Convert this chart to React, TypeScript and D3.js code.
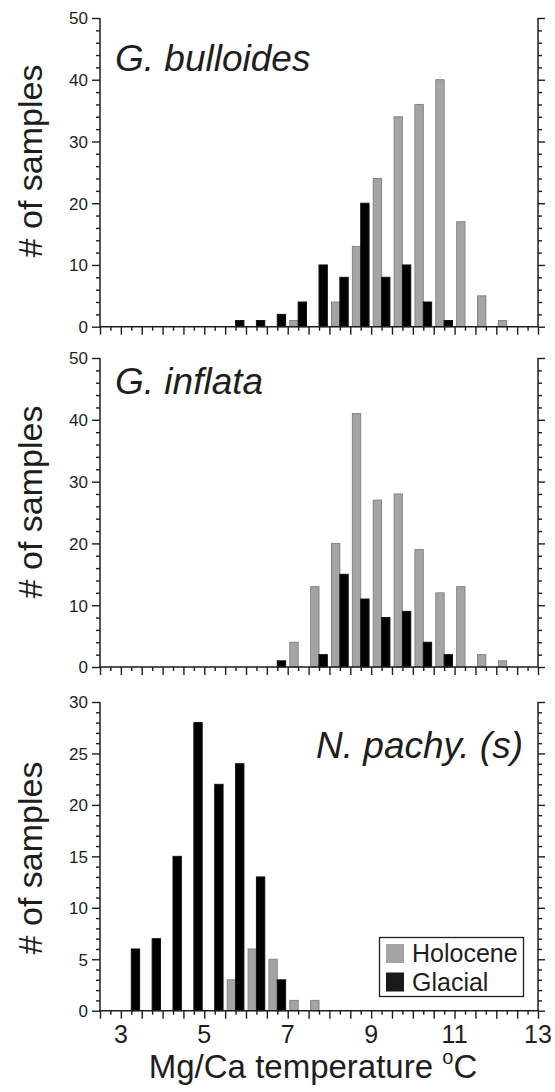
import React, { useEffect, useRef } from "react";
import * as d3 from "d3";

// bin centres (degC), each bin 0.5 wide; Holocene bar left of centre, Glacial right
const binCenters = [3.25, 3.75, 4.25, 4.75, 5.25, 5.75, 6.25, 6.75, 7.25, 7.75, 8.25, 8.75, 9.25, 9.75, 10.25, 10.75, 11.25, 11.75, 12.25];

const bulloidesHolocene = [0, 0, 0, 0, 0, 0, 0, 0, 1, 0, 4, 13, 24, 34, 36, 40, 17, 5, 1];
const bulloidesGlacial = [0, 0, 0, 0, 0, 1, 1, 2, 4, 10, 8, 20, 8, 10, 4, 1, 0, 0, 0];

const inflataHolocene = [0, 0, 0, 0, 0, 0, 0, 0, 4, 13, 20, 41, 27, 28, 19, 12, 13, 2, 1];
const inflataGlacial = [0, 0, 0, 0, 0, 0, 0, 1, 0, 2, 15, 11, 8, 9, 4, 2, 0, 0, 0];

const pachyHolocene = [0, 0, 0, 0, 0, 3, 6, 5, 1, 1, 0, 0, 0, 0, 0, 0, 0, 0, 0];
const pachyGlacial = [6, 7, 15, 28, 22, 24, 13, 3, 0, 0, 0, 0, 0, 0, 0, 0, 0, 0, 0];

const xTickLabels = [3, 5, 7, 9, 11, 13];
const yTicks50 = [0, 10, 20, 30, 40, 50];
const yTicks30 = [0, 5, 10, 15, 20, 25, 30];
const seriesNames = ["Holocene", "Glacial"];

const FONT = "'Liberation Sans', Arial, Helvetica, sans-serif";
const INK = "#1e1e1e";
const GREY = "#a4a4a4";
const GREY_EDGE = "#858585";

const panels = [
  { title: "G. bulloides", holo: bulloidesHolocene, glac: bulloidesGlacial, ymax: 50, yticks: yTicks50, minorStep: 2, top: 18, bottom: 326.7, titleX: 115, titleY: 71, anchor: "start", labelY: 161 },
  { title: "G. inflata", holo: inflataHolocene, glac: inflataGlacial, ymax: 50, yticks: yTicks50, minorStep: 2, top: 358, bottom: 667, titleX: 115, titleY: 394, anchor: "start", labelY: 502 },
  { title: "N. pachy. (s)", holo: pachyHolocene, glac: pachyGlacial, ymax: 30, yticks: yTicks30, minorStep: 1, top: 702, bottom: 1010.7, titleX: 523, titleY: 758, anchor: "end", labelY: 858 },
];

const App = () => {
  const svgRef = useRef<SVGSVGElement>(null);

  useEffect(() => {
    const svg = d3.select(svgRef.current);
    svg.selectAll("*").remove();

    const left = 100;
    const right = 538;
    const x = d3.scaleLinear().domain([2.5, 13]).range([left, right]);
    const barW = 0.2;

    panels.forEach((p, pi) => {
      const y = d3.scaleLinear().domain([0, p.ymax]).range([p.bottom, p.top]);
      const g = svg.append("g");

      // bars
      const rows = binCenters.map((c, i) => ({ c, holo: p.holo[i], glac: p.glac[i] }));
      g.selectAll("rect.holo")
        .data(rows.filter((d) => d.holo > 0))
        .enter()
        .append("rect")
        .attr("x", (d) => x(d.c - barW))
        .attr("y", (d) => y(d.holo))
        .attr("width", x(barW) - x(0))
        .attr("height", (d) => y(0) - y(d.holo))
        .attr("fill", GREY)
        .attr("stroke", GREY_EDGE)
        .attr("stroke-width", 1);
      g.selectAll("rect.glac")
        .data(rows.filter((d) => d.glac > 0))
        .enter()
        .append("rect")
        .attr("x", (d) => x(d.c))
        .attr("y", (d) => y(d.glac))
        .attr("width", x(barW) - x(0))
        .attr("height", (d) => y(0) - y(d.glac))
        .attr("fill", "#000")
        .attr("stroke", "#111")
        .attr("stroke-width", 1);

      const yMinor = d3.range(0, p.ymax + 0.001, p.minorStep).filter((v) => !p.yticks.includes(v));
      const xMajor = d3.range(2.5, 13.001, 0.5);
      const xMinor = d3.range(2.75, 13, 0.5);

      const styleAxis = (sel) => {
        sel.select(".domain").remove();
        sel.selectAll("line").attr("stroke", INK).attr("stroke-width", 1.4);
        sel.selectAll("text").attr("fill", INK).attr("font-family", FONT);
      };

      // left axis
      g.append("g")
        .attr("transform", `translate(${left},0)`)
        .call(d3.axisLeft(y).tickValues(p.yticks).tickSize(8).tickPadding(4).tickFormat(d3.format("d")))
        .call(styleAxis)
        .selectAll("text")
        .attr("font-size", 17)
        .attr("dy", "0.35em");
      g.append("g")
        .attr("transform", `translate(${left},0)`)
        .call(d3.axisLeft(y).tickValues(yMinor).tickSize(4).tickFormat(() => ""))
        .call(styleAxis);

      // right axis
      g.append("g")
        .attr("transform", `translate(${right},0)`)
        .call(d3.axisRight(y).tickValues(p.yticks).tickSize(7).tickFormat(() => ""))
        .call(styleAxis);
      g.append("g")
        .attr("transform", `translate(${right},0)`)
        .call(d3.axisRight(y).tickValues(yMinor).tickSize(4).tickFormat(() => ""))
        .call(styleAxis);

      // bottom axis
      g.append("g")
        .attr("transform", `translate(0,${p.bottom})`)
        .call(d3.axisBottom(x).tickValues(xMajor).tickSize(8).tickFormat(() => ""))
        .call(styleAxis);
      g.append("g")
        .attr("transform", `translate(0,${p.bottom})`)
        .call(d3.axisBottom(x).tickValues(xMinor).tickSize(4).tickFormat(() => ""))
        .call(styleAxis);

      // frame lines (left, right, bottom)
      g.append("path")
        .attr("d", `M${left},${p.top}V${p.bottom}H${right}V${p.top}`)
        .attr("fill", "none")
        .attr("stroke", INK)
        .attr("stroke-width", 1.5);

      if (pi === panels.length - 1) {
        g.selectAll("text.xt")
          .data(xTickLabels)
          .enter()
          .append("text")
          .attr("x", (d) => x(d))
          .attr("y", p.bottom + 32)
          .attr("text-anchor", "middle")
          .attr("font-family", FONT)
          .attr("font-size", 25)
          .attr("fill", INK)
          .text((d) => d);
      }

      // panel title
      g.append("text")
        .attr("x", p.titleX)
        .attr("y", p.titleY)
        .attr("text-anchor", p.anchor)
        .attr("font-family", FONT)
        .attr("font-style", "italic")
        .attr("font-size", 37)
        .attr("fill", INK)
        .text(p.title);

      // y label
      g.append("text")
        .attr("transform", `translate(42,${p.labelY}) rotate(-90)`)
        .attr("text-anchor", "middle")
        .attr("font-family", FONT)
        .attr("font-size", 34)
        .attr("fill", INK)
        .text("# of samples");
    });

    // x axis title
    const xt = svg.append("text")
      .attr("x", 313)
      .attr("y", 1078)
      .attr("text-anchor", "middle")
      .attr("font-family", FONT)
      .attr("font-size", 33)
      .attr("fill", INK);
    xt.append("tspan").text("Mg/Ca temperature ");
    xt.append("tspan").attr("font-size", 20).attr("dy", -14).text("o");
    xt.append("tspan").attr("dy", 14).text("C");

    // legend
    const lg = svg.append("g");
    lg.append("rect")
      .attr("x", 379.5).attr("y", 937.5).attr("width", 144).attr("height", 59)
      .attr("fill", "#fff").attr("stroke", INK).attr("stroke-width", 1.3);
    const swatch = [GREY, "#1a1a1a"];
    seriesNames.forEach((name, i) => {
      lg.append("rect")
        .attr("x", 386).attr("y", 944 + i * 28.5).attr("width", 18).attr("height", 19)
        .attr("fill", swatch[i]);
      lg.append("text")
        .attr("x", 412).attr("y", 962 + i * 28.5)
        .attr("font-family", FONT).attr("font-size", 25).attr("fill", INK)
        .text(name);
    });
  }, []);

  return (
    <svg
      ref={svgRef}
      width={555}
      height={1092}
      style={{ position: "absolute", left: 0, top: 0, background: "#fff" }}
    />
  );
};

export default App;
